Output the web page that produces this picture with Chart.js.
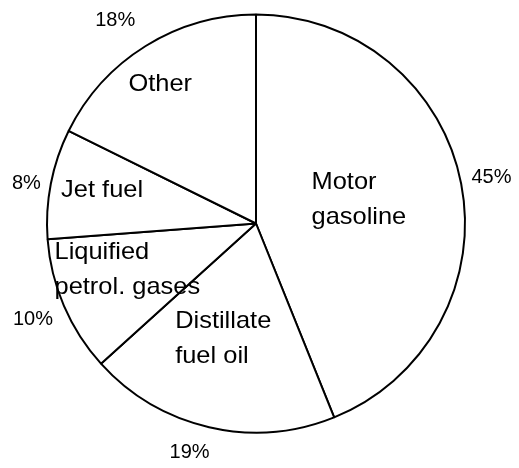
<!DOCTYPE html>
<html><head><meta charset="utf-8">
<script src="https://cdn.jsdelivr.net/npm/chart.js@4/dist/chart.umd.min.js"></script>
<style>html,body{margin:0;padding:0;background:#fff}#wrap{width:519px;height:468px;position:relative}</style>
</head><body><div id="wrap"><canvas id="c" width="519" height="468"></canvas></div>
<script>
// ---- data ----
const categories = ["Motor gasoline", "Distillate fuel oil", "Liquified petrol. gases", "Jet fuel", "Other"];
const categoryLines = [["Motor", "gasoline"], ["Distillate", "fuel oil"], ["Liquified", "petrol. gases"], ["Jet fuel"], ["Other"]];
const shares = [43.9, 19.4, 10.5, 8.5, 17.7];
const percentLabels = ["45%", "19%", "10%", "8%", "18%"];

// ---- label layout (polar: angle offset in degrees from slice middle, radius as fraction of pie radius) ----
const pctAngleOffset = [-0.1, 3.2, -0.1, -1.1, -2.9];
const pctRadius = [1.148, 1.141, 1.162, 1.115, 1.182];
const catAngleOffset = [-1.9, 2.9, 3.5, 1.1, -2.6];
const catRadius = [0.505, 0.574, 0.654, 0.753, 0.81];
const catLineHeight = 35;
const catStretch = 1.06;
const FONT = '"Liberation Sans", Arial, Helvetica, sans-serif';

const labelPlugin = {
  id: 'sliceLabels',
  afterDatasetsDraw(chart) {
    const ctx = chart.ctx;
    const meta = chart.getDatasetMeta(0);
    ctx.save();
    ctx.fillStyle = '#000';
    meta.data.forEach((arc, i) => {
      const p = arc.getProps(['x', 'y', 'startAngle', 'endAngle', 'outerRadius'], true);
      const mid = (p.startAngle + p.endAngle) / 2;
      // percentage outside
      let a = mid + pctAngleOffset[i] * Math.PI / 180;
      let r = p.outerRadius * pctRadius[i];
      ctx.font = '20px ' + FONT;
      ctx.textAlign = 'center';
      ctx.textBaseline = 'middle';
      ctx.fillText(percentLabels[i], p.x + r * Math.cos(a), p.y + r * Math.sin(a));
      // category name inside (left-aligned block)
      a = mid + catAngleOffset[i] * Math.PI / 180;
      r = p.outerRadius * catRadius[i];
      const bx = p.x + r * Math.cos(a), by = p.y + r * Math.sin(a);
      ctx.font = '24px ' + FONT;
      const lines = categoryLines[i];
      const maxW = Math.max(...lines.map(l => ctx.measureText(l).width)) * catStretch;
      ctx.textAlign = 'left';
      lines.forEach((l, k) => {
        ctx.save();
        ctx.translate(bx - maxW / 2, by + (k - (lines.length - 1) / 2) * catLineHeight);
        ctx.scale(catStretch, 1);
        ctx.fillText(l, 0, 0);
        ctx.restore();
      });
    });
    ctx.restore();
  }
};

new Chart(document.getElementById('c'), {
  type: 'pie',
  data: {
    labels: categories,
    datasets: [{
      data: shares,
      backgroundColor: '#ffffff',
      borderColor: '#000000',
      borderWidth: 2,
      borderAlign: 'center'
    }]
  },
  options: {
    responsive: false,
    animation: false,
    layout: { padding: { left: 46, right: 53, top: 13.5, bottom: 34.5 } },
    plugins: { legend: { display: false }, tooltip: { enabled: false } }
  },
  plugins: [labelPlugin]
});
</script>
</body></html>
